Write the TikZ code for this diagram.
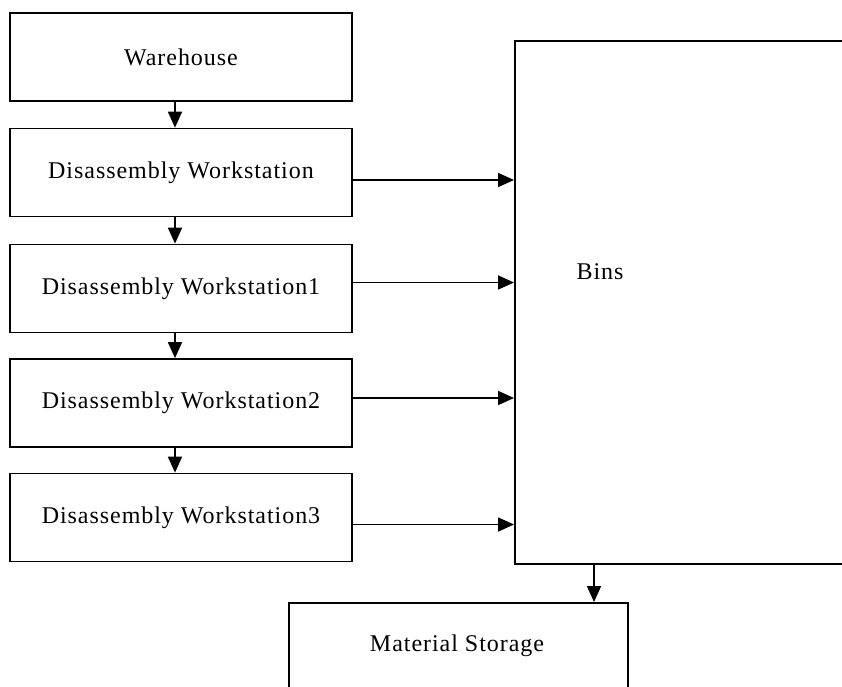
\documentclass[tikz,border=0pt]{standalone}
\usepackage{fontspec}
\setmainfont{Liberation Serif}[LetterSpace=4]
\usetikzlibrary{arrows.meta,calc}
\begin{document}
\begin{tikzpicture}[x=1pt,y=-1pt,
  box/.style={draw,line width=1.7pt,rectangle,inner sep=0pt,minimum width=342pt,minimum height=88pt,font=\fontsize{24}{28}\selectfont},
  arr/.style={line width=1.7pt,-{Triangle[length=16pt,width=14pt]}},
  lbl/.style={font=\fontsize{24}{28}\selectfont,inner sep=0pt}]
\useasboundingbox (0,0) rectangle (842,686);
\clip (0,0) rectangle (842,686);
\fill[white] (0,0) rectangle (842,686);
\node[box] (wh) at (181,57) {Warehouse};
\node[box] (w0) at (181,172.5) {Disassembly Workstation};
\node[box] (w1) at (181,288.5) {Disassembly Workstation1};
\node[box] (w2) at (181,403) {Disassembly Workstation2};
\node[box] (w3) at (181,517.5) {Disassembly Workstation3};
\node[draw,line width=1.7pt,inner sep=0pt,minimum width=360pt,minimum height=523pt,anchor=north west] (bins) at (514,40) {};
\node[lbl] (binslbl) at (600,272) {Bins};
\node[box,minimum width=339pt,minimum height=88pt,anchor=north west] (ms) at (288,602) {};
\node[lbl] (mslbl) at (457,646) {Material Storage};
\foreach \a/\b in {wh/w0,w0/w1,w1/w2,w2/w3}{
  \draw[arr] ([xshift=-6pt]\a.south) -- ([xshift=-6pt]\b.north);
}
\path ([yshift=-7.5pt]w0.east) coordinate (s0)
      ([yshift=6pt]w1.east) coordinate (s1)
      ([yshift=5pt]w2.east) coordinate (s2)
      ([yshift=-7pt]w3.east) coordinate (s3);
\foreach \s in {s0,s1,s2,s3}{
  \draw[arr] (\s) -- (\s -| bins.west);
}
\path (bins.south west) ++(80,0) coordinate (bd);
\draw[arr] (bd) -- (bd |- ms.north);
\end{tikzpicture}
\end{document}
